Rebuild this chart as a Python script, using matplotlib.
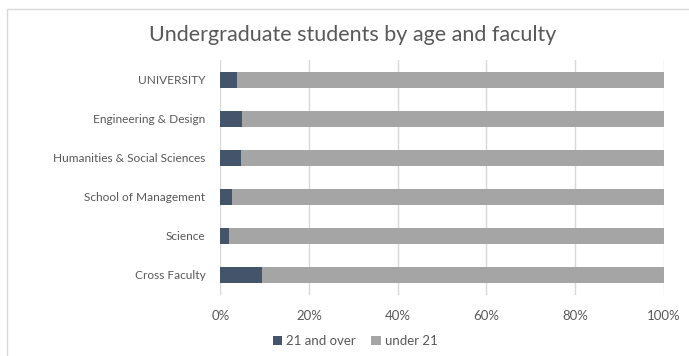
import matplotlib
matplotlib.use("Agg")
import matplotlib.pyplot as plt
from matplotlib.patches import Rectangle

categories = ["UNIVERSITY", "Engineering & Design", "Humanities & Social Sciences",
              "School of Management", "Science", "Cross Faculty"]
over_21 = [3.8, 4.9, 4.7, 2.7, 2.0, 9.5]
under_21 = [100 - v for v in over_21]
xticks = [0, 20, 40, 60, 80, 100]

DARK = "#44546A"
GRAY = "#A5A5A5"
TEXT = "#595959"

plt.rcParams["font.family"] = ["Lato", "DejaVu Sans"]

fig = plt.figure(figsize=(6.89, 3.56), dpi=100)
ax = fig.add_axes([220.3 / 689, 1 - 294.5 / 356, (663.8 - 220.3) / 689, (294.5 - 60) / 356])

# chart frame, only top and left edges visible in the crop
fig.patches.append(Rectangle((7 / 689, -0.1), 1.2, 1 - 9 / 356 + 0.1, transform=fig.transFigure,
                             fill=False, edgecolor="#D9D9D9", linewidth=1.0))

ypos = list(range(len(categories)))
ax.barh(ypos, over_21, height=0.41, color=DARK, label="21 and over", zorder=3)
ax.barh(ypos, under_21, left=over_21, height=0.41, color=GRAY, label="under 21", zorder=3)

ax.set_xlim(0, 100)
ax.set_ylim(len(categories) - 0.5, -0.5)
ax.set_yticks(ypos)
ax.set_yticklabels(categories)
ax.set_xticks(xticks)
ax.set_xticklabels([f"{t}%" for t in xticks])
ax.tick_params(length=0, colors=TEXT)
ax.tick_params(axis="x", pad=11, labelsize=9.5)
ax.tick_params(axis="y", pad=10.8, labelsize=8.6)
for s in ax.spines.values():
    s.set_visible(False)
ax.grid(axis="x", color="#D9D9D9", linewidth=1.0, zorder=0)

fig.text(352.5 / 689, 1 - 35 / 356, "Undergraduate students by age and faculty", ha="center", va="center",
         fontsize=15.5, color=TEXT)

leg = fig.legend(loc="center", bbox_to_anchor=(355 / 689, 1 - 341 / 356), ncol=2, frameon=False,
                 fontsize=9.5, handlelength=0.7, handleheight=0.7, handletextpad=0.3, columnspacing=1.2)
for t in leg.get_texts():
    t.set_color(TEXT)

fig.savefig("out.png", dpi=100)
